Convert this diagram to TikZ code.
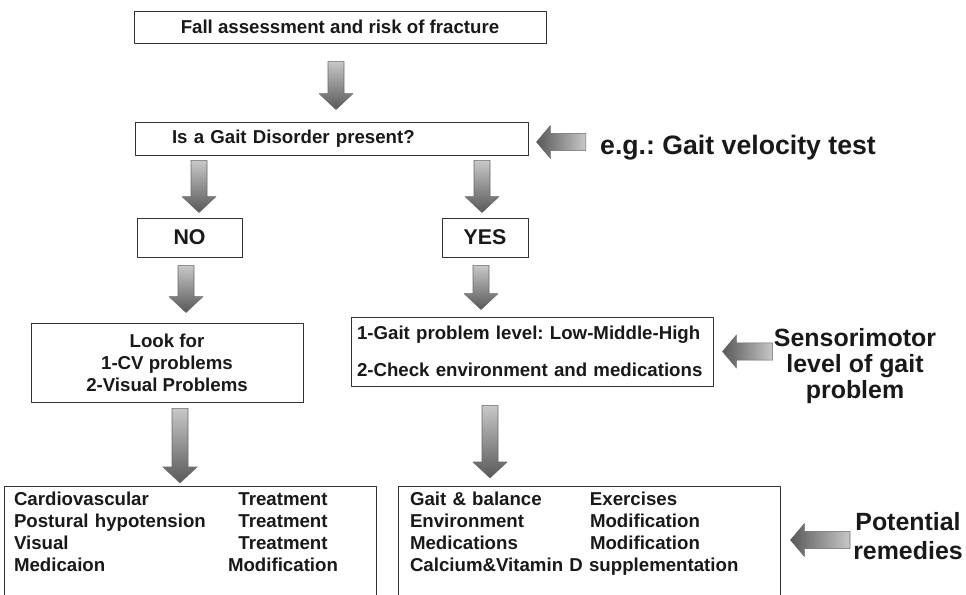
\documentclass[tikz,border=0pt]{standalone}
\usepackage{fontspec}
\setmainfont{Liberation Sans}
\usepackage{array}
\usetikzlibrary{calc,shadows}
\frenchspacing
\definecolor{Alight}{RGB}{200,200,200}
\definecolor{Adark}{RGB}{88,88,88}
\definecolor{Aedge}{RGB}{105,105,105}
\definecolor{Tink}{RGB}{25,25,25}
\tikzset{
  box/.style={draw=black!80,line width=0.7pt,fill=white,inner sep=0pt,
    drop shadow={shadow xshift=1.1pt,shadow yshift=-1.1pt,fill=black!85,opacity=1},
    font=\bfseries\fontsize{14}{16.5}\selectfont,text=Tink},
  bigbox/.style={box,font=\bfseries\fontsize{16}{18}\selectfont,minimum height=29.25pt},
  sidetext/.style={inner sep=0pt,align=center,text=Tink},
  blockarrow/.style={draw=Aedge,line width=0.4pt}
}
\newcommand\vblock[2]{%
  \shade[blockarrow,top color=Alight,bottom color=Adark]
    let \p1=#1,\p2=#2 in
    (\x2-6pt,\y1) -- (\x2+6pt,\y1) -- (\x2+6pt,\y2+12pt) -- (\x2+12.75pt,\y2+12pt)
    -- (\x2,\y2) -- (\x2-12.75pt,\y2+12pt) -- (\x2-6pt,\y2+12pt) -- cycle;}
\newcommand\hblock[2]{%
  \shade[blockarrow,left color=Adark,right color=Alight]
    let \p1=#1,\p2=#2 in
    (\x1,\y2+6.4pt) -- (\x2+10.5pt,\y2+6.4pt) -- (\x2+10.5pt,\y2+12.4pt)
    -- (\x2,\y2) -- (\x2+10.5pt,\y2-12.4pt) -- (\x2+10.5pt,\y2-6.4pt) -- (\x1,\y2-6.4pt) -- cycle;}
\begin{document}
\begin{tikzpicture}[x=0.75pt,y=-0.75pt,line join=round]
\useasboundingbox (0,0) rectangle (966,594);
\clip (0,0) rectangle (966,594);
\node[box,minimum width=309pt,minimum height=24pt] (fall) at (340,27) {Fall assessment and risk of fracture};
\node[box,minimum height=24.75pt,text width=239.25pt,inner xsep=27.75pt,align=left] (gait) at (331.5,138.5) {Is a Gait Disorder present?};
\node[bigbox,minimum width=78.75pt] (no) at (189.5,237.5) {NO};
\node[bigbox,minimum width=64.5pt] (yes) at (485,237.5) {YES};
\node[box,minimum width=204pt,minimum height=59.25pt,align=center] (look) at (167,362.5) {Look for\\1-CV problems\\2-Visual Problems};
\node[box,minimum height=51.75pt,text width=262.5pt,inner xsep=4.5pt,align=left] (check) at (532,351.5) {1-Gait problem level: Low-Middle-High\\[11pt]2-Check environment and medications};
\node[box,anchor=north,text width=264pt,inner xsep=7.5pt,inner ysep=2.5pt,align=left] (remL) at (190,486) {%
\begin{tabular}{@{}p{160.5pt}@{}>{\centering\arraybackslash}p{82.5pt}@{}}
Cardiovascular & Treatment\\
Postural hypotension & Treatment\\
Visual & Treatment\\
Medicaion & Modification\\
 & \\
\end{tabular}};
\node[box,anchor=north,text width=268.5pt,inner xsep=9pt,inner ysep=2.5pt,align=left] (remR) at (589,486) {%
\begin{tabular}{@{}p{135pt}@{}l@{}}
Gait \& balance & Exercises\\
Environment & Modification\\
Medications & Modification\\
\multicolumn{2}{@{}l@{}}{Calcium\&Vitamin D supplementation}\\
 & \\
\end{tabular}};
\node[sidetext,font=\bfseries\fontsize{20}{24}\selectfont] (velocity) at (738,148) {e.g.: Gait velocity test};
\node[sidetext,font=\bfseries\fontsize{18.7}{19.5}\selectfont] (sensor) at (855,366) {Sensorimotor\\level of gait\\problem};
\node[sidetext,font=\bfseries\fontsize{18.7}{21.75}\selectfont] (remedy) at (908,536.5) {Potential\\remedies};
\vblock{($(fall.south)+(0,18)$)}{($(gait.north)+(4.5,-12)$)}
\vblock{($(gait.south)+(0,5)$)}{($(no.north)+(9.5,-5)$)}
\vblock{($(gait.south)+(0,5)$)}{($(yes.north)+(-3,-5)$)}
\vblock{($(no.south)+(0,8)$)}{($(look.north)+(19,-10)$)}
\vblock{($(yes.south)+(0,8)$)}{($(check.north)+(-51,-7)$)}
\vblock{($(look.south)+(0,6)$)}{($(remL.north)+(-10,-3)$)}
\vblock{($(check.south)+(0,19)$)}{($(remR.north)+(-99,-8)$)}
\hblock{($(velocity.west)+(-14,0)$)}{($(gait.east)+(8,3.5)$)}
\hblock{($(sensor.west)+(-1,0)$)}{($(check.east)+(9,0)$)}
\hblock{($(remedy.west)+(-3,0)$)}{($(remR.north east)+(10,54)$)}
\end{tikzpicture}
\end{document}
